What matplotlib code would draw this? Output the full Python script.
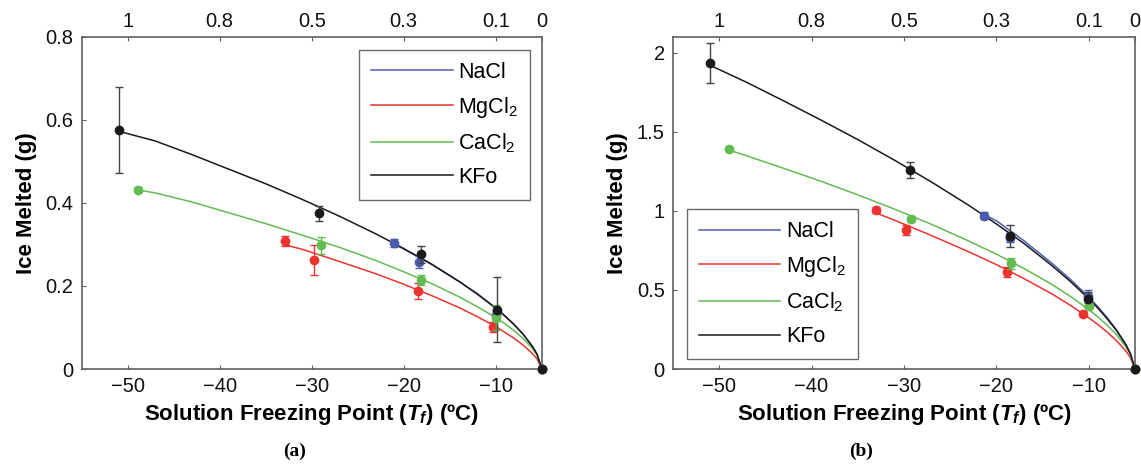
import matplotlib
matplotlib.use("Agg")
import matplotlib.pyplot as plt

plt.rcParams['font.family'] = ['Liberation Sans', 'DejaVu Sans']
plt.rcParams['mathtext.fontset'] = 'custom'
plt.rcParams['mathtext.rm'] = 'Liberation Sans'
plt.rcParams['mathtext.it'] = 'Liberation Sans:italic:bold'
plt.rcParams['mathtext.bf'] = 'Liberation Sans:bold'

series_names = ['NaCl', 'MgCl$_2$', 'CaCl$_2$', 'KFo']
colors = ['#4b5cae', '#ec3330', '#62bb50', '#1a1a1a']
err_colors = ['#4b5cae', '#ec3330', '#62bb50', '#444444']

# ---- panel (a) measured points ----
a_nacl_x = [-21.1, -18.3, -10.0, -5]
a_nacl_y = [0.303, 0.258, 0.130, 0.0]
a_nacl_e = [0.010, 0.015, 0.010, 0.0]
a_mgcl_x = [-32.9, -29.8, -18.5, -10.3, -5]
a_mgcl_y = [0.308, 0.262, 0.188, 0.100, 0.0]
a_mgcl_e = [0.012, 0.036, 0.020, 0.012, 0.0]
a_cacl_x = [-48.9, -29.0, -18.1, -10.0, -5]
a_cacl_y = [0.432, 0.298, 0.214, 0.123, 0.0]
a_cacl_e = [0.005, 0.020, 0.012, 0.030, 0.0]
a_kfo_x = [-50.9, -29.2, -18.1, -9.9, -5]
a_kfo_y = [0.575, 0.375, 0.276, 0.143, 0.0]
a_kfo_e = [0.103, 0.018, 0.020, 0.078, 0.0]

# ---- panel (a) fitted curves ----
a_nacl_cx = [-21.1, -20, -17, -14, -12, -10, -9, -8, -7, -6, -5.5, -5]
a_nacl_cy = [0.302, 0.289, 0.252, 0.211, 0.180, 0.146, 0.127, 0.107, 0.083, 0.054, 0.035, 0.0]
a_mgcl_cx = [-32.9, -31, -27, -23, -20, -17, -14, -12, -10, -9, -8, -7, -6, -5.5, -5]
a_mgcl_cy = [0.299, 0.288, 0.259, 0.229, 0.204, 0.177, 0.148, 0.126, 0.102, 0.088, 0.074, 0.057, 0.037, 0.024, 0.0]
a_cacl_cx = [-48.9, -47, -43, -39, -35, -31, -27, -23, -20, -17, -14, -12, -10, -9, -8, -7, -6, -5.5, -5]
a_cacl_cy = [0.431, 0.424, 0.402, 0.376, 0.350, 0.322, 0.293, 0.261, 0.234, 0.206, 0.174, 0.150, 0.124, 0.109, 0.092, 0.073, 0.049, 0.033, 0.0]
a_kfo_cx = [-50.9, -47, -43, -39, -35, -31, -27, -23, -20, -17, -14, -12, -10, -9, -8, -7, -6, -5.5, -5]
a_kfo_cy = [0.572, 0.549, 0.516, 0.481, 0.446, 0.408, 0.368, 0.325, 0.290, 0.253, 0.211, 0.181, 0.147, 0.128, 0.107, 0.083, 0.054, 0.035, 0.0]

# ---- panel (b) measured points ----
b_nacl_x = [-21.3, -18.5, -10.1, -5]
b_nacl_y = [0.970, 0.830, 0.460, 0.0]
b_nacl_e = [0.025, 0.030, 0.040, 0.0]
b_mgcl_x = [-33.0, -29.8, -18.8, -10.6, -5]
b_mgcl_y = [1.005, 0.880, 0.613, 0.350, 0.0]
b_mgcl_e = [0.020, 0.030, 0.030, 0.015, 0.0]
b_cacl_x = [-48.9, -29.2, -18.45, -10.0, -5]
b_cacl_y = [1.390, 0.950, 0.668, 0.400, 0.0]
b_cacl_e = [0.010, 0.020, 0.035, 0.020, 0.0]
b_kfo_x = [-51.0, -29.3, -18.5, -10.1, -5]
b_kfo_y = [1.935, 1.258, 0.843, 0.440, 0.0]
b_kfo_e = [0.127, 0.050, 0.070, 0.045, 0.0]

# ---- panel (b) fitted curves ----
b_nacl_cx = [-21.3, -20, -17, -14, -12, -10, -9, -8, -7, -6, -5.5, -5]
b_nacl_cy = [0.975, 0.937, 0.810, 0.669, 0.567, 0.454, 0.392, 0.324, 0.248, 0.157, 0.099, 0.0]
b_mgcl_cx = [-33.0, -31, -27, -23, -20, -17, -14, -12, -10, -9, -8, -7, -6, -5.5, -5]
b_mgcl_cy = [0.986, 0.940, 0.843, 0.741, 0.660, 0.571, 0.475, 0.403, 0.324, 0.281, 0.233, 0.179, 0.115, 0.074, 0.0]
b_cacl_cx = [-48.9, -47, -43, -39, -35, -31, -27, -23, -20, -17, -14, -12, -10, -9, -8, -7, -6, -5.5, -5]
b_cacl_cy = [1.383, 1.347, 1.268, 1.187, 1.101, 1.010, 0.914, 0.809, 0.726, 0.635, 0.535, 0.459, 0.376, 0.329, 0.276, 0.217, 0.143, 0.094, 0.0]
b_kfo_cx = [-51.0, -47, -43, -39, -35, -31, -27, -23, -20, -17, -14, -12, -10, -9, -8, -7, -6, -5.5, -5]
b_kfo_cy = [1.920, 1.811, 1.694, 1.574, 1.450, 1.319, 1.181, 1.035, 0.917, 0.793, 0.654, 0.554, 0.444, 0.384, 0.317, 0.243, 0.154, 0.097, 0.0]

bottom_ticks = [-50, -40, -30, -20, -10]
bottom_labels = ['\u221250', '\u221240', '\u221230', '\u221220', '\u221210']
top_ticks = [-50, -40, -30, -20, -10, -5]
top_labels = ['1', '0.8', '0.5', '0.3', '0.1', '0']

a_yticks = [0, 0.2, 0.4, 0.6, 0.8]
a_ylabels = ['0', '0.2', '0.4', '0.6', '0.8']
b_yticks = [0, 0.5, 1, 1.5, 2]
b_ylabels = ['0', '0.5', '1', '1.5', '2']

fig = plt.figure(figsize=(11.41, 4.72), dpi=100)
axA = fig.add_axes([0.0716, 0.2182, 0.4032, 0.7040])
axB = fig.add_axes([0.5898, 0.2182, 0.4049, 0.7040])

spine_col = '#606060'


def draw(ax, pts, curves, yticks, ylabels, ylim, legend_loc, legend_anchor):
    handles = []
    for i, (cx, cy) in enumerate(curves):
        h, = ax.plot(cx, cy, color=colors[i], lw=1.1, label=series_names[i], zorder=2 + i * 0.1)
        handles.append(h)
    for i, (px, py, pe) in enumerate(pts):
        ax.errorbar(px, py, yerr=pe, fmt='o', color=colors[i], ecolor=err_colors[i],
                    elinewidth=1.0, capsize=3, capthick=1.0, markersize=6,
                    zorder=3 + i * 0.1, clip_on=False)
    ax.set_xlim(-55, -5)
    ax.set_ylim(*ylim)
    ax.set_xticks(bottom_ticks)
    ax.set_xticklabels(bottom_labels, fontsize=14.5)
    ax.set_yticks(yticks)
    ax.set_yticklabels(ylabels, fontsize=14.5)
    ax.tick_params(direction='in', length=3, width=0.8, colors=spine_col, labelcolor='#111111', pad=6)
    for s in ax.spines.values():
        s.set_color(spine_col)
        s.set_linewidth(1.2)
    ax.set_ylabel('Ice Melted (g)', fontsize=16, fontweight='bold', labelpad=6)
    ax.set_xlabel('Solution Freezing Point ($T_f$) (\u00baC)', fontsize=16, fontweight='bold', labelpad=4)
    top = ax.twiny()
    top.set_xlim(ax.get_xlim())
    top.set_xticks(top_ticks)
    top.set_xticklabels(top_labels, fontsize=14.5)
    top.tick_params(direction='in', length=3, width=0.8, colors=spine_col, labelcolor='#111111', pad=4)
    for s in top.spines.values():
        s.set_visible(False)
    leg = ax.legend(handles=handles, loc=legend_loc, bbox_to_anchor=legend_anchor,
                    fontsize=15.5, frameon=True, fancybox=False, handlelength=3.8,
                    labelspacing=0.55, borderpad=0.55, handletextpad=0.25, borderaxespad=0)
    leg.get_frame().set_edgecolor('#444444')
    leg.get_frame().set_linewidth(1.0)


draw(axA,
     [(a_nacl_x, a_nacl_y, a_nacl_e), (a_mgcl_x, a_mgcl_y, a_mgcl_e),
      (a_cacl_x, a_cacl_y, a_cacl_e), (a_kfo_x, a_kfo_y, a_kfo_e)],
     [(a_nacl_cx, a_nacl_cy), (a_mgcl_cx, a_mgcl_cy),
      (a_cacl_cx, a_cacl_cy), (a_kfo_cx, a_kfo_cy)],
     a_yticks, a_ylabels, (0, 0.8), 'upper right', (0.975, 0.96))

draw(axB,
     [(b_nacl_x, b_nacl_y, b_nacl_e), (b_mgcl_x, b_mgcl_y, b_mgcl_e),
      (b_cacl_x, b_cacl_y, b_cacl_e), (b_kfo_x, b_kfo_y, b_kfo_e)],
     [(b_nacl_cx, b_nacl_cy), (b_mgcl_cx, b_mgcl_cy),
      (b_cacl_cx, b_cacl_cy), (b_kfo_cx, b_kfo_cy)],
     b_yticks, b_ylabels, (0, 2.1), 'lower left', (0.03, 0.03))

fig.text(0.258, 0.035, '(a)', fontsize=14, fontweight='bold', family='Liberation Serif', ha='center')
fig.text(0.755, 0.035, '(b)', fontsize=14, fontweight='bold', family='Liberation Serif', ha='center')

fig.savefig('out.png', dpi=100)
